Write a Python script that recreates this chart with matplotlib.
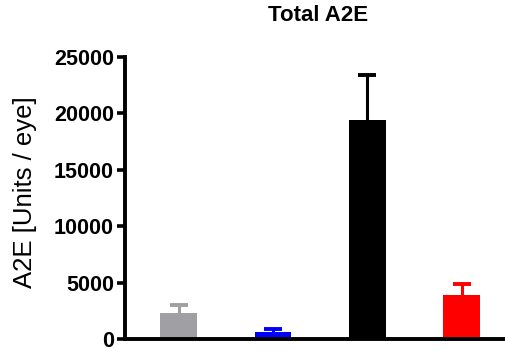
import matplotlib
matplotlib.use("Agg")
import matplotlib.pyplot as plt

groups = ["G1", "G2", "G3", "G4"]
means = [2330, 590, 19400, 3930]
errors = [680, 300, 4000, 920]
colors = ["#a0a0a4", "#0000ff", "#000000", "#ff0000"]
yticks = [0, 5000, 10000, 15000, 20000, 25000]

plt.rcParams["font.family"] = ["Liberation Sans", "DejaVu Sans"]

fig = plt.figure(figsize=(5.05, 3.51), dpi=100)
ax = fig.add_axes([0.2475, 0.034, 0.76, 0.804])

x = list(range(len(groups)))
ax.bar(x, means, width=0.39, color=colors, zorder=2)

# upper-only error bars: stem from bar top, cap at mean + error
tops = [m + e for m, e in zip(means, errors)]
ax.vlines(x, means, tops, colors=colors, linewidth=2.2, zorder=1)
cap_half = 0.095
ax.hlines(tops, [xi - cap_half for xi in x], [xi + cap_half for xi in x],
          colors=colors, linewidth=2.8, zorder=1)

ax.set_xlim(-0.57, 3.5)
ax.set_ylim(0, 25000)
ax.set_yticks(yticks)
ax.set_yticklabels([str(t) for t in yticks], fontsize=15.5, fontweight="bold")
ax.set_xticks([])
ax.tick_params(axis="y", width=2.6, length=6, pad=2)

for side in ["top", "right"]:
    ax.spines[side].set_visible(False)
for side in ["left", "bottom"]:
    ax.spines[side].set_linewidth(2.8)
ax.spines["left"].set_bounds(0, 25000)

ax.set_ylabel("A2E [Units / eye]", fontsize=18.5, labelpad=6)
ax.yaxis.set_label_coords(-0.228, 0.52)
fig.text(0.63, 0.955, "Total A2E", ha="center", va="center",
         fontsize=16, fontweight="bold")

fig.savefig("out.png", dpi=100)
